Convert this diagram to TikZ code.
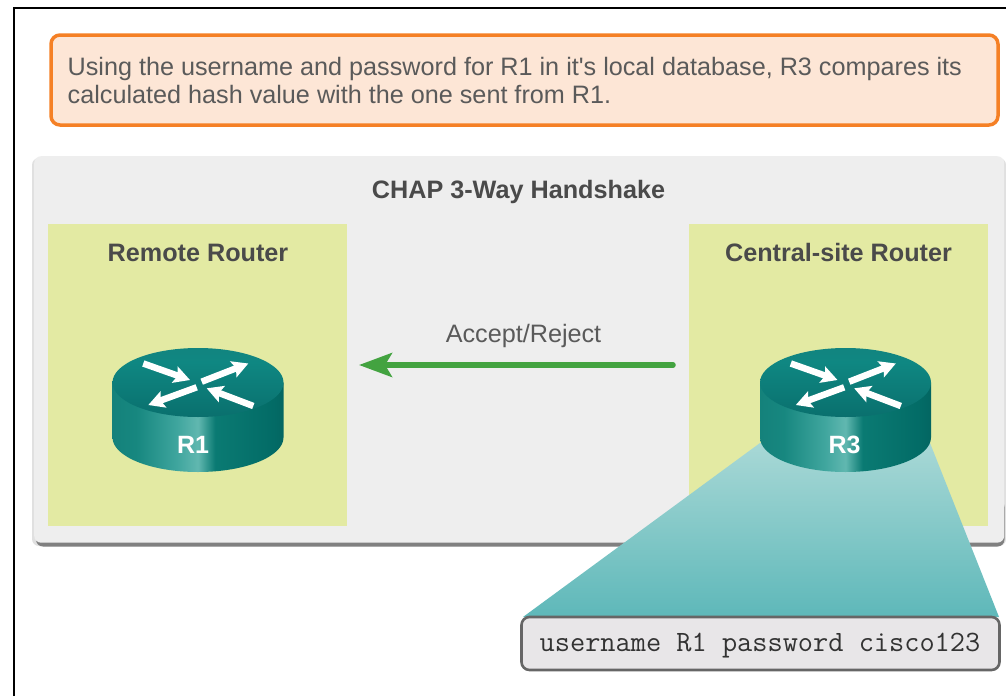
\documentclass[tikz,border=0pt]{standalone}
\usepackage{fontspec}
\setmainfont{Liberation Sans}
\usetikzlibrary{arrows.meta}
\definecolor{txt}{HTML}{5A5A5A}
\definecolor{txtb}{HTML}{4A4A4A}
\definecolor{orangeline}{HTML}{F58025}
\definecolor{orangefill}{HTML}{FDE6D6}
\definecolor{panelgray}{HTML}{EEEEEE}
\definecolor{panelgreen}{HTML}{E3EAA3}
\definecolor{arrowgreen}{HTML}{43A340}
\definecolor{boxfill}{HTML}{E8E6E8}
\definecolor{boxline}{HTML}{666666}
\definecolor{funneltop}{RGB}{168,216,214}
\definecolor{funnelbottom}{RGB}{94,184,185}
\pgfdeclarehorizontalshading{routerside}{100bp}{
  rgb(0bp)=(0.05,0.40,0.39);
  rgb(12bp)=(0.06,0.47,0.45);
  rgb(32bp)=(0.09,0.53,0.50);
  rgb(44bp)=(0.25,0.65,0.62);
  rgb(50bp)=(0.38,0.72,0.69);
  rgb(55bp)=(0.04,0.48,0.45);
  rgb(72bp)=(0.01,0.42,0.40);
  rgb(90bp)=(0.01,0.29,0.29);
  rgb(100bp)=(0.05,0.36,0.35)}
\pgfdeclareverticalshading{routertop}{100bp}{
  rgb(0bp)=(0.03,0.36,0.37);
  rgb(30bp)=(0.04,0.45,0.44);
  rgb(65bp)=(0.06,0.53,0.51);
  rgb(100bp)=(0.09,0.49,0.47)}
\tikzset{
  x=1pt,y=-1pt,
  frameline/.style={black,line width=1.8pt},
  callout/.style={draw=orangeline,fill=orangefill,line width=3.5pt,rounded corners=9pt},
  panelbase/.style={fill=panelgray,rounded corners=7pt},
  greenpanel/.style={fill=panelgreen},
  bodytext/.style={text=txt,font=\fontsize{25.2}{28}\selectfont,align=left,inner sep=0pt},
  headtext/.style={text=txtb,font=\bfseries\fontsize{25.2}{28}\selectfont,inner sep=0pt},
  linktext/.style={text=txt,font=\fontsize{25.2}{28}\selectfont,inner sep=0pt},
  routertext/.style={text=white,font=\bfseries\fontsize{25}{28}\selectfont,inner sep=0pt},
  flowarrow/.style={draw=arrowgreen,line width=5.5pt,line cap=round,-{Stealth[length=33pt,width=24pt,inset=7pt]}},
  rarrow/.style={draw=white,line width=6.5pt,-{Stealth[length=16pt,width=17pt,inset=3pt]}},
  cfgbox/.style={draw=boxline,fill=boxfill,line width=2.6pt,rounded corners=8pt},
  cfgtext/.style={text=black!80,font=\ttfamily\fontsize{29.5}{32}\selectfont,inner sep=0pt},
}
\newcommand{\routerdraw}[1]{%
  \begin{scope}[shift={#1}]
    \shade[shading=routerside]
      (-85.5,0) -- (-85.5,55) arc (180:0:85.5 and 34.5) -- (85.5,0) -- cycle;
    \shade[shading=routertop] (0,0) ellipse (85.5 and 34.5);
    \draw[rarrow] (-54.7,-19) -- (-8,-2.5);
    \draw[rarrow] (3.7,-0.8) -- (50.3,-19);
    \draw[rarrow] (-1.3,4.8) -- (-49.7,22.5);
    \draw[rarrow] (55.3,23.5) -- (8.7,5.8);
  \end{scope}}
\begin{document}
\begin{tikzpicture}
\useasboundingbox (0,0) rectangle (1006,696);
\fill[white] (0,0) rectangle (1006,696);
\draw[frameline] (14,696) -- (14,8) -- (1006,8);

\node[callout,minimum width=947pt,minimum height=90pt] (note) at (524.5,80) {};
\node[bodytext,anchor=base west] (notetext) at (67.5,103)
  {Using the username and password for R1 in it\textquotesingle s local database, R3 compares its\\calculated hash value with the one sent from R1.};

\fill[black!12,rounded corners=7pt] (32,158) rectangle (1006,546);
\fill[black!50,rounded corners=7pt] (36,500) rectangle (1004.5,546.5);
\node[panelbase,minimum width=970pt,minimum height=386.5pt,anchor=north west] (panel) at (34,156) {};
\node[headtext] (title) at (518.5,192) {CHAP 3-Way Handshake};

\node[greenpanel,minimum width=299pt,minimum height=302pt,anchor=north west] (left) at (48,224) {};
\node[greenpanel,minimum width=299pt,minimum height=302pt,anchor=north west] (right) at (689,224) {};
\node[headtext] (lefttitle) at (198,253) {Remote Router};
\node[headtext] (righttitle) at (838.5,252.5) {Central-site Router};

\node[linktext] (link) at (523.5,336) {Accept/Reject};
\coordinate (from) at (673,365);
\coordinate (to) at (359,365);
\draw[flowarrow] (from) -- (to);

\routerdraw{(198,382.5)}
\node[routertext] (r1) at (193,445) {R1};

\path[top color=funneltop,bottom color=funnelbottom]
  (760,443) -- (930,443) -- (999,617) -- (523,617) -- cycle;
\routerdraw{(845.5,382.5)}
\node[routertext] (r3) at (844.5,445) {R3};

\node[cfgbox,minimum width=478pt,minimum height=53pt] (cfg) at (760.5,643.5) {};
\node[cfgtext] (cfgtxt) at (760,646) {username R1 password cisco123};
\end{tikzpicture}
\end{document}
